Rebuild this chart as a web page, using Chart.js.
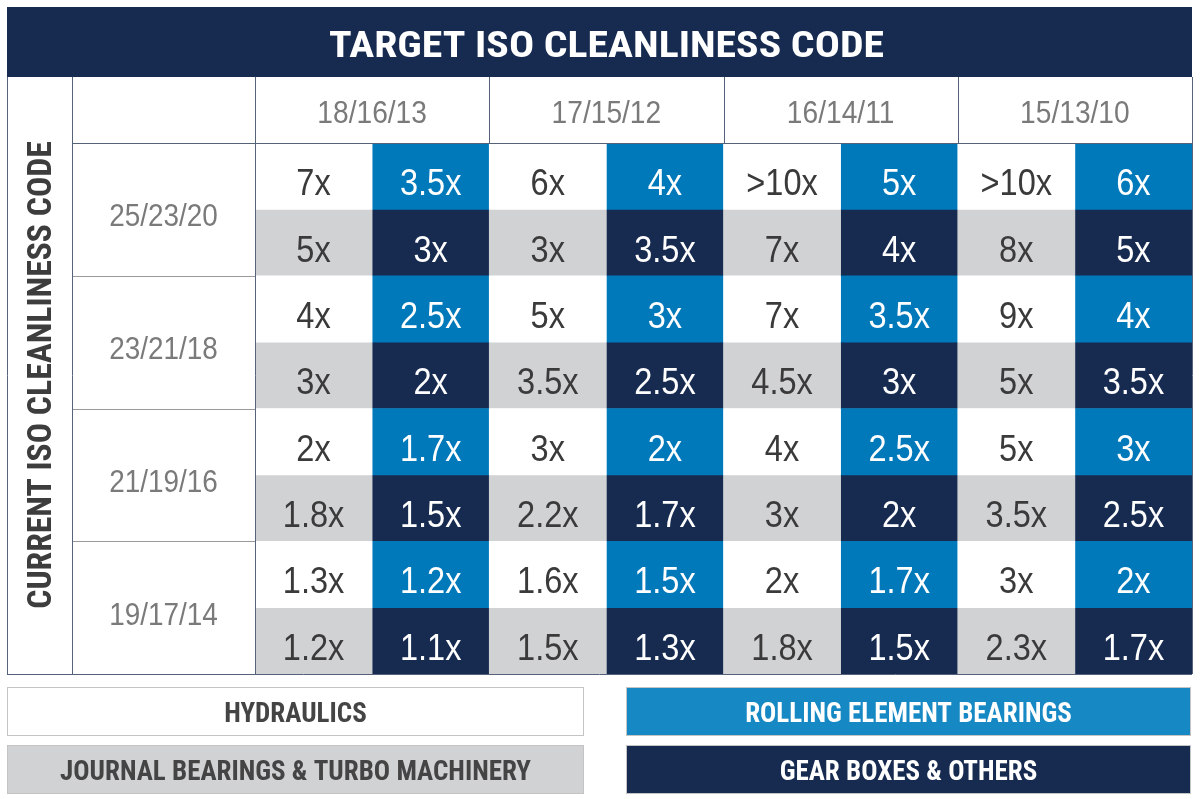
<!DOCTYPE html>
<html>
<head>
<meta charset="utf-8">
<script src="https://cdn.jsdelivr.net/npm/chart.js@4.4.0/dist/chart.umd.min.js"></script>
<style>
  html, body { margin: 0; padding: 0; background: #fff; }
  #wrap { width: 1200px; height: 799px; }
</style>
</head>
<body>
<div id="wrap"><canvas id="iso"></canvas></div>
<script>
const title = 'TARGET ISO CLEANLINESS CODE';
const sideTitle = 'CURRENT ISO CLEANLINESS CODE';
const targetCodes = ['18/16/13', '17/15/12', '16/14/11', '15/13/10'];
const currentCodes = ['25/23/20', '23/21/18', '21/19/16', '19/17/14'];

// one row per current code, one entry per target code
const hydraulics = [
  ['7x', '6x', '>10x', '>10x'],
  ['4x', '5x', '7x', '9x'],
  ['2x', '3x', '4x', '5x'],
  ['1.3x', '1.6x', '2x', '3x'],
];
const rollingBearings = [
  ['3.5x', '4x', '5x', '6x'],
  ['2.5x', '3x', '3.5x', '4x'],
  ['1.7x', '2x', '2.5x', '3x'],
  ['1.2x', '1.5x', '1.7x', '2x'],
];
const journalBearings = [
  ['5x', '3x', '7x', '8x'],
  ['3x', '3.5x', '4.5x', '5x'],
  ['1.8x', '2.2x', '3x', '3.5x'],
  ['1.2x', '1.5x', '1.8x', '2.3x'],
];
const gearBoxes = [
  ['3x', '3.5x', '4x', '5x'],
  ['2x', '2.5x', '3x', '3.5x'],
  ['1.5x', '1.7x', '2x', '2.5x'],
  ['1.1x', '1.3x', '1.5x', '1.7x'],
];

const NAVY = '#172b51';
const LINE = '#56627a';
const DARK = '#3a3a3a';
const GREY_TXT = '#7a7a7a';
const CONDENSED = "'Liberation Sans Narrow', 'Roboto Condensed', 'DejaVu Sans Condensed', sans-serif";
const PLAIN = "'Liberation Sans', Arial, sans-serif";

// two slots per target code: left = hydraulics / journal, right = rolling / gear
const slots = targetCodes.flatMap(c => [c + ' L', c + ' R']);

const apps = [
  { label: 'HYDRAULICS', values: hydraulics, side: 0, sub: 0, color: '#ffffff', legend: '#ffffff', text: DARK },
  { label: 'ROLLING ELEMENT BEARINGS', values: rollingBearings, side: 1, sub: 0, color: '#0079bb', legend: '#1688c3', text: '#ffffff' },
  { label: 'JOURNAL BEARINGS & TURBO MACHINERY', values: journalBearings, side: 0, sub: 1, color: '#d1d2d4', legend: '#d1d2d4', text: DARK },
  { label: 'GEAR BOXES & OTHERS', values: gearBoxes, side: 1, sub: 1, color: NAVY, legend: NAVY, text: '#ffffff' },
];

const datasets = apps.map(a => {
  const data = [];
  a.values.forEach((row, i) => {
    row.forEach((txt, j) => {
      const r = i * 2 + a.sub;
      data.push({ x: slots[j * 2 + a.side], y: [r, r + 1], t: txt });
    });
  });
  return {
    label: a.label,
    data: data,
    backgroundColor: a.color,
    legendColor: a.legend,
    textColor: a.text,
    borderWidth: 0,
    grouped: false,
    barPercentage: 1,
    categoryPercentage: 1,
  };
});

// centred text, sx squeezes / stretches it sideways
function text(ctx, str, x, y, font, color, sx = 1) {
  ctx.save();
  ctx.font = font;
  ctx.fillStyle = color;
  ctx.textAlign = 'center';
  ctx.textBaseline = 'alphabetic';
  ctx.translate(x, y);
  ctx.scale(sx, 1);
  ctx.fillText(str, 0, 0);
  ctx.restore();
}

function hline(ctx, x1, x2, y, color) {
  ctx.strokeStyle = color;
  ctx.lineWidth = 1;
  ctx.beginPath();
  ctx.moveTo(x1, Math.round(y) + 0.5);
  ctx.lineTo(x2, Math.round(y) + 0.5);
  ctx.stroke();
}

function vline(ctx, x, y1, y2, color) {
  ctx.strokeStyle = color;
  ctx.lineWidth = 1;
  ctx.beginPath();
  ctx.moveTo(Math.round(x) + 0.5, y1);
  ctx.lineTo(Math.round(x) + 0.5, y2);
  ctx.stroke();
}

const tablePlugin = {
  id: 'isoTable',
  beforeDatasetsDraw(chart) {
    const { ctx, chartArea: ca, scales: { x, y } } = chart;
    const left = 7, labelCol = 72, top = 7, headTop = 77;
    const slotW = (ca.right - ca.left) / slots.length;
    ctx.save();
    ctx.fillStyle = '#fff';
    ctx.fillRect(0, 0, chart.width, chart.height);

    // title band
    ctx.fillStyle = NAVY;
    ctx.fillRect(left, top, ca.right - left, headTop - top);
    text(ctx, title, (left + ca.right) / 2 + 7, 57, 'bold 37px ' + CONDENSED, '#ffffff', 1.13);

    // header codes
    targetCodes.forEach((c, j) => {
      const x1 = x.getPixelForValue(j * 2) - slotW / 2;
      const x2 = x.getPixelForValue(j * 2 + 1) + slotW / 2;
      text(ctx, c, (x1 + x2) / 2, ca.top - 20, '32px ' + PLAIN, GREY_TXT, 0.88);
      vline(ctx, x1, headTop, ca.top, LINE);
    });

    // current codes
    currentCodes.forEach((c, i) => {
      const y1 = y.getPixelForValue(i * 2);
      const y2 = y.getPixelForValue(i * 2 + 2);
      text(ctx, c, (labelCol + ca.left) / 2, (y1 + y2) / 2 + 17, '31px ' + PLAIN, GREY_TXT, 0.9);
      if (i > 0) hline(ctx, labelCol, ca.left, y1, '#9a9a9a');
    });

    // side title
    ctx.save();
    ctx.translate(39, 375);
    ctx.rotate(-Math.PI / 2);
    text(ctx, sideTitle, 0, 12, 'bold 33px ' + CONDENSED, '#3d3d3d', 1.02);
    ctx.restore();
    ctx.restore();
  },
  afterDatasetsDraw(chart) {
    const { ctx, chartArea: ca } = chart;
    const left = 7, labelCol = 72, headTop = 77;
    ctx.save();
    chart.data.datasets.forEach((ds, di) => {
      const meta = chart.getDatasetMeta(di);
      meta.data.forEach((el, k) => {
        const cy = (el.y + el.base) / 2;
        text(ctx, ds.data[k].t, el.x, cy + 19, '37px ' + PLAIN, ds.textColor, 0.88);
      });
    });

    // frame
    hline(ctx, labelCol, ca.right, ca.top, LINE);
    vline(ctx, left, headTop, ca.bottom, LINE);
    vline(ctx, labelCol, headTop, ca.bottom, LINE);
    vline(ctx, ca.left, headTop, ca.bottom, LINE);
    vline(ctx, ca.right, headTop, ca.bottom, LINE);
    hline(ctx, left, ca.right, ca.bottom, LINE);

    // legend boxes
    const boxH = 49, gapY = 9, firstY = ca.bottom + 13;
    const cols = [[left, 584], [626, ca.right - 1]];
    chart.data.datasets.forEach((ds, di) => {
      const [x1, x2] = cols[di % 2];
      const y1 = firstY + Math.floor(di / 2) * (boxH + gapY);
      ctx.fillStyle = ds.legendColor;
      ctx.fillRect(x1, y1, x2 - x1, boxH);
      ctx.strokeStyle = '#c4c4c4';
      ctx.lineWidth = 1;
      ctx.strokeRect(x1 + 0.5, y1 + 0.5, x2 - x1 - 1, boxH - 1);
      text(ctx, ds.label, (x1 + x2) / 2, y1 + boxH / 2 + 10, 'bold 27px ' + CONDENSED, ds.textColor === '#ffffff' ? '#ffffff' : '#444444');
    });
    ctx.restore();
  },
};

new Chart(document.getElementById('iso'), {
  type: 'bar',
  data: { labels: slots, datasets: datasets },
  options: {
    responsive: true,
    maintainAspectRatio: false,
    animation: false,
    layout: { padding: { left: 255, right: 8, top: 143, bottom: 125 } },
    scales: {
      x: { type: 'category', display: false, offset: true },
      y: { type: 'linear', min: 0, max: 8, reverse: true, display: false },
    },
    plugins: {
      legend: { display: false },
      tooltip: { enabled: false },
    },
  },
  plugins: [tablePlugin],
});
</script>
</body>
</html>
